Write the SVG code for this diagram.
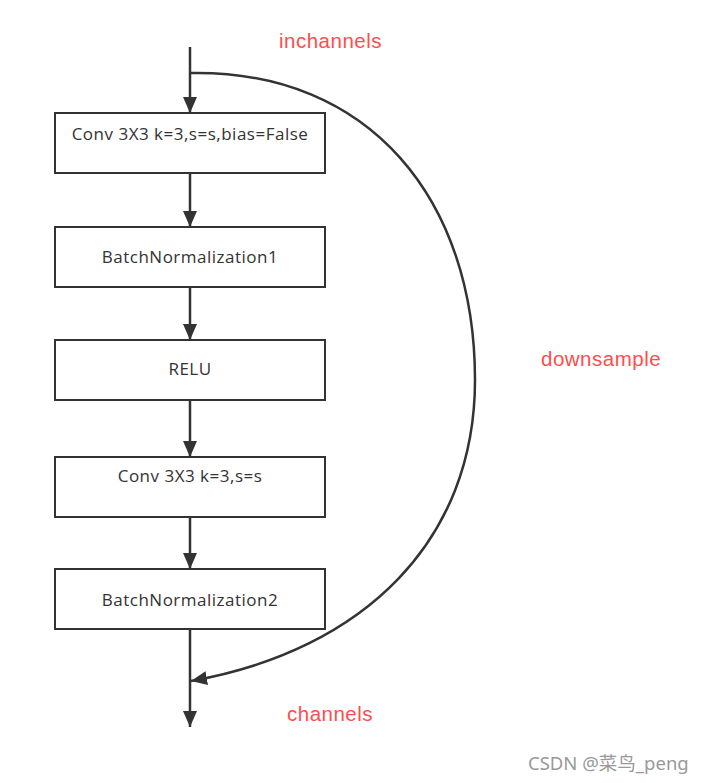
<svg xmlns="http://www.w3.org/2000/svg" width="706" height="783" viewBox="0 0 706 783">
<style>
.box{fill:#fff;stroke:#333;stroke-width:2}
.t{font-family:"Open Sans","DejaVu Sans",sans-serif;font-size:17px;letter-spacing:0.5px;fill:#333;text-anchor:middle}
.r{font-family:"Liberation Sans",Arial,sans-serif;font-size:20.5px;letter-spacing:0.5px;fill:#ff4d4d}
.ln{fill:none;stroke:#333;stroke-width:2.5}
.wm{font-family:"Noto Sans","Noto Sans CJK SC",sans-serif;font-size:18.5px;fill:#999}
</style>
<defs>
<marker id="ah" viewBox="0 0 16 14" refX="16" refY="7" markerWidth="16" markerHeight="14" markerUnits="userSpaceOnUse" orient="auto">
<path d="M0,0 L16,7 L0,14 Z" fill="#333"/>
</marker>
</defs>
<rect width="706" height="783" fill="#fff"/>
<g id="connectors">
<line class="ln" x1="190" y1="47" x2="190" y2="113" marker-end="url(#ah)"/>
<line class="ln" x1="190" y1="174" x2="190" y2="227" marker-end="url(#ah)"/>
<line class="ln" x1="190" y1="287" x2="190" y2="340" marker-end="url(#ah)"/>
<line class="ln" x1="190" y1="400" x2="190" y2="457" marker-end="url(#ah)"/>
<line class="ln" x1="190" y1="517" x2="190" y2="569" marker-end="url(#ah)"/>
<line class="ln" x1="190" y1="629" x2="190" y2="727" marker-end="url(#ah)"/>
<path class="ln" d="M191,73 C370,70 475,200 475,380 C475,540 365,650 191,681" marker-end="url(#ah)"/>
</g>
<g id="n1"><rect class="box" x="55" y="113" width="270" height="60"/><text class="t" x="190" y="140">Conv 3X3 k=3,s=s,bias=False</text></g>
<g id="n2"><rect class="box" x="55" y="227" width="270" height="60"/><text class="t" x="190" y="263">BatchNormalization1</text></g>
<g id="n3"><rect class="box" x="55" y="340" width="270" height="60"/><text class="t" x="190" y="375">RELU</text></g>
<g id="n4"><rect class="box" x="55" y="457" width="270" height="60"/><text class="t" x="190" y="482">Conv 3X3 k=3,s=s</text></g>
<g id="n5"><rect class="box" x="55" y="569" width="270" height="60"/><text class="t" x="190" y="606">BatchNormalization2</text></g>
<g id="labels">
<text class="r" x="279" y="48">inchannels</text>
<text class="r" x="541" y="366">downsample</text>
<text class="r" x="287" y="721">channels</text>
<text class="wm" x="528" y="770">CSDN @菜鸟_peng</text>
</g>
</svg>
